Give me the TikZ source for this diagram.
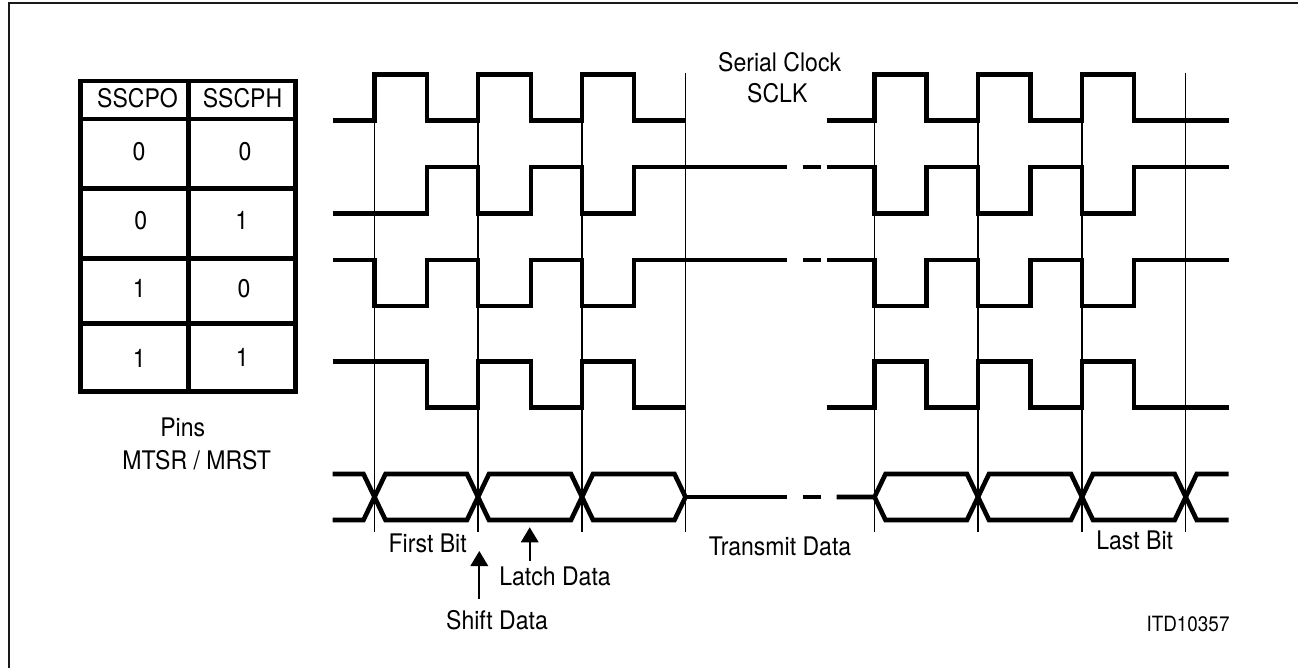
\documentclass[tikz,border=0pt]{standalone}
\usepackage{fontspec}
\setmainfont[FakeStretch=0.9]{TeX Gyre Heros}
\usetikzlibrary{arrows.meta}
\tikzset{
  x=1pt,y=-1pt,
  frameline/.style={line width=1.8pt,black!90},
  wave/.style={line width=4.6pt,black,miter limit=10},
  grid/.style={line width=1.5pt,black},
  tablerule/.style={line width=4.6pt,black},
  label/.style={anchor=base,inner sep=0pt,outer sep=0pt,font=\fontsize{25.6}{25.6}\selectfont,text=black},
  small/.style={label,font=\fontsize{21}{21}\selectfont},
  pointer/.style={line width=1.8pt,black,-{Triangle[length=15pt,width=17.5pt]}}
}
\begin{document}
\begin{tikzpicture}
\useasboundingbox (0,0) rectangle (1298,668);
\fill[white] (0,0) rectangle (1298,668);
% frame
\draw[frameline] (9,668) -- (9,3) -- (1298,3);
% grid lines
\foreach \g in {374.5,478,582,685.5,874.5,978,1082,1185.7}
  \draw[grid] (\g,73) -- (\g,531.7);
% table
\draw[tablerule] (80.5,81) rectangle (295.5,391.7);
\draw[tablerule] (188.5,81) -- (188.5,391.7);
\foreach \r in {119,188.3,258.3,323.5}
  \draw[tablerule] (80.5,\r) -- (295.5,\r);
\node[label] (hpo) at (137.5,108) {SSCPO};
\node[label] (hph) at (242.5,108) {SSCPH};
\node[label] (a1) at (139,160.5) {0};
\node[label] (b1) at (245,160.5) {0};
\node[label] (a2) at (140.7,230) {0};
\node[label] (b2) at (241.7,230) {1};
\node[label] (a3) at (139.3,297.5) {1};
\node[label] (b3) at (244,297.5) {0};
\node[label] (a4) at (139.3,367.3) {1};
\node[label] (b4) at (242.3,366) {1};
\node[label] (pins) at (182.7,436) {Pins};
\node[label] (mtsr) at (196.7,469) {MTSR / MRST};
% waveform 1
\draw[wave] (332.5,120.5) -| (374.5,74.5) -| (427,120.5) -| (478,74.5) -| (531,120.5) -| (582,74.5) -| (634,120.5) -- (685.5,120.5);
\draw[wave] (826.7,120.5) -| (874.5,74.5) -| (926.7,120.5) -| (978,74.5) -| (1030.3,120.5) -| (1082,74.5) -| (1134,120.5) -- (1228.7,120.5);
% waveform 2
\draw[wave] (332.5,213.5) -| (427,167) -| (478,213.5) -| (531,167) -| (582,213.5) -| (634,167) -- (786.7,167);
\draw[wave] (802.7,167) -- (820.7,167);
\draw[wave] (826.7,167) -| (874.5,213.5) -| (926.7,167) -| (978,213.5) -| (1030.3,167) -| (1082,213.5) -| (1134,167) -- (1228.7,167);
% waveform 3
\draw[wave] (332.5,260) -| (374.5,306) -| (427,260) -| (478,306) -| (531,260) -| (582,306) -| (634,260) -- (786.7,260);
\draw[wave] (802.7,260) -- (820.7,260);
\draw[wave] (826.7,260) -| (874.5,306) -| (926.7,260) -| (978,306) -| (1030.3,260) -| (1082,306) -| (1134,260) -- (1228.7,260);
% waveform 4
\draw[wave] (332.5,361.7) -| (427,407.3) -| (478,361.7) -| (531,407.3) -| (582,361.7) -| (634,407.3) -- (685.5,407.3);
\draw[wave] (826.7,407.3) -| (874.5,361.7) -| (926.7,407.3) -| (978,361.7) -| (1030.3,407.3) -| (1082,361.7) -| (1134,407.3) -- (1228.7,407.3);
% data
\draw[wave] (332.5,474) -- (363.5,474) -- (385.5,520) -- (467,520) -- (489,474) -- (571,474) -- (593,520) -- (674.5,520) -- (685.5,497) -- (674.5,474) -- (593,474) -- (571,520) -- (489,520) -- (467,474) -- (385.5,474) -- (363.5,520) -- (332.5,520);
\draw[wave] (685.5,497) -- (786.7,497);
\draw[wave] (802.7,497) -- (820.7,497);
\draw[wave] (836.6,497) -- (874.5,497) -- (885.5,474) -- (967,474) -- (989,520) -- (1071,520) -- (1093,474) -- (1174.7,474) -- (1196.7,520) -- (1228.7,520);
\draw[wave] (874.5,497) -- (885.5,520) -- (967,520) -- (989,474) -- (1071,474) -- (1093,520) -- (1174.7,520) -- (1196.7,474) -- (1228.7,474);
% labels
\node[label] (serial) at (779.7,72) {Serial Clock};
\node[label] (sclk) at (777.3,102.5) {SCLK};
\node[label] (first) at (427.7,552.7) {First Bit};
\node[label] (latch) at (555,585) {Latch Data};
\node[label] (shift) at (497,629) {Shift Data};
\node[label] (transmit) at (780,555) {Transmit Data};
\node[label] (last) at (1134.7,549) {Last Bit};
\node[small] (itd) at (1188,631.5) {ITD10357};
% arrows
\coordinate (shiftfrom) at (479.3,599);
\coordinate (shiftto) at (479.3,551);
\coordinate (latchfrom) at (529.7,561);
\coordinate (latchto) at (529.7,527.3);
\draw[pointer] (shiftfrom) -- (shiftto);
\draw[pointer] (latchfrom) -- (latchto);
\end{tikzpicture}
\end{document}
